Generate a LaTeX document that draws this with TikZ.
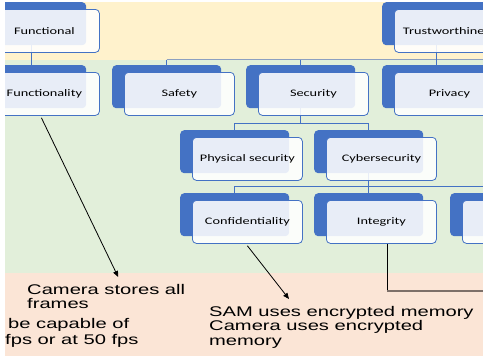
\documentclass[tikz,border=0pt]{standalone}
\usepackage{fontspec}
\usetikzlibrary{arrows.meta}
\newfontfamily\boxfont[FakeStretch=1.43]{Carlito}
\newfontfamily\notefont[FakeStretch=1.44]{Liberation Sans}
\definecolor{bandyellow}{RGB}{255,242,204}
\definecolor{bandgreen}{RGB}{226,239,218}
\definecolor{bandpeach}{RGB}{251,229,214}
\definecolor{accent}{RGB}{68,114,196}
\definecolor{busgray}{RGB}{140,160,192}
\definecolor{linkbrown}{RGB}{125,112,105}
\tikzset{
  tabbox/.style={fill=accent, rounded corners=4pt, inner sep=0pt,
    minimum width=109pt, minimum height=43pt, anchor=north west},
  cardbox/.style={draw=accent, line width=0.8pt, fill=white, fill opacity=0.88,
    text opacity=1, rounded corners=4pt, inner sep=0pt,
    minimum width=110pt, minimum height=43pt, anchor=north west,
    font=\boxfont\fontsize{10}{12}\selectfont, text=black},
  treeline/.style={draw=accent, line width=0.9pt},
  busline/.style={draw=busgray, line width=0.9pt},
  notetext/.style={anchor=north west, inner sep=0pt, align=left, text=black},
  pointer/.style={draw=black, line width=0.8pt, -{Triangle[length=6pt,width=5pt]}},
}
\begin{document}
\begin{tikzpicture}[x=1pt, y=-1pt]
\useasboundingbox (0,0) rectangle (483,356);
\fill[white] (0,0) rectangle (483,356);
\begin{scope}
\clip (5,2) rectangle (483,356);
% background bands
\fill[bandyellow] (5,2) rectangle (483,59.5);
\fill[bandgreen] (5,59.5) rectangle (483,273);
\fill[bandpeach] (5,273) rectangle (483,356);

% back tabs of the cards
\node[tabbox] (functionalT) at (-23,2) {};
\node[tabbox] (trustT) at (382,2) {};
\node[tabbox] (functionalityT) at (-23,65) {};
\node[tabbox] (safetyT) at (112,65) {};
\node[tabbox] (securityT) at (246,65) {};
\node[tabbox] (privacyT) at (382,65) {};
\node[tabbox] (physicalT) at (180,130) {};
\node[tabbox] (cyberT) at (314,130) {};
\node[tabbox] (confT) at (180,193) {};
\node[tabbox] (integT) at (314,193) {};
\node[tabbox] (thirdT) at (450,193) {};

% tree connectors
\coordinate (busA) at (0,59.5);
\coordinate (busAend) at (495,59.5);
\coordinate (busB) at (0,123);
\coordinate (busC) at (0,186.5);
\path[treeline] (functionalT.south) -- (functionalityT.north);
\path[busline] (safetyT.north |- busA) -- (busAend);
\path[treeline] (trustT.south) -- (trustT.south |- busA);
\path[treeline] (safetyT.north |- busA) -- (safetyT.north);
\path[treeline] (securityT.north |- busA) -- (securityT.north);
\path[treeline] (privacyT.north |- busA) -- (privacyT.north);
\path[treeline] (securityT.south) -- (securityT.south |- busB);
\path[treeline] (physicalT.north) |- (cyberT.north |- busB) -- (cyberT.north);
\path[treeline] (cyberT.south) -- (cyberT.south |- busC);
\path[treeline] (confT.north) |- (thirdT.north |- busC) -- (thirdT.north);
\path[treeline] (integT.north |- busC) -- (integT.north);

% front cards
\node[cardbox] (functional) at (-11,9) {Functional};
\node[cardbox] (trust) at (394,9) {Trustworthiness};
\node[cardbox] (functionality) at (-11,72) {Functionality};
\node[cardbox] (safety) at (124,72) {Safety};
\node[cardbox] (security) at (258,72) {Security};
\node[cardbox] (privacy) at (394,72) {Privacy};
\node[cardbox] (physical) at (192,137) {Physical security};
\node[cardbox] (cyber) at (326,137) {Cybersecurity};
\node[cardbox] (conf) at (192,200) {Confidentiality};
\node[cardbox] (integ) at (326,200) {Integrity};
\node[cardbox] (third) at (462,200) {};

% notes
\node[notetext, font=\notefont\fontsize{14}{14}\selectfont] (cam) at (27,284)
  {Camera stores all\\frames};
\node[notetext, font=\notefont\fontsize{14}{16}\selectfont] (cap) at (5,318)
  {\hspace*{3pt}be capable of\\fps or at 50 fps};
\node[notetext, font=\notefont\fontsize{14}{14.5}\selectfont] (sam) at (209,306)
  {SAM uses encrypted memory\\Camera uses encrypted\\memory};

% pointers to the notes
\draw[pointer] ([xshift=-3pt,yshift=-2pt]functionality.south) -- ([xshift=12pt,yshift=7pt]cam.north);
\draw[pointer] ([yshift=-2pt]conf.south) -- ([xshift=80pt,yshift=7pt]sam.north west);
\coordinate (intEnd) at (495,291);
\coordinate (intTurn) at ([xshift=6pt]integ.south |- intEnd);
\draw[black, line width=0.9pt] ([xshift=6pt]integ.south) -- (intTurn);
\draw[linkbrown, line width=1.3pt] (intTurn) -- (intEnd);
\end{scope}
\end{tikzpicture}
\end{document}
